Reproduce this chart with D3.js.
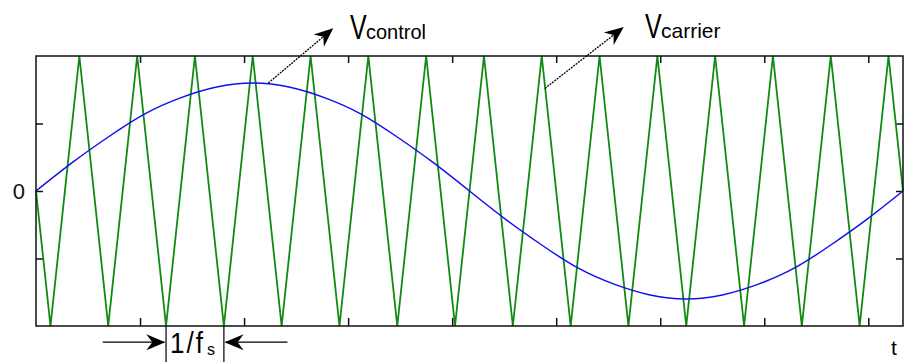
<!DOCTYPE html>
<html>
<head>
<meta charset="utf-8">
<script src="https://cdn.jsdelivr.net/npm/d3@7"></script>
<style>
  body { margin: 0; background: #fff; }
  svg { display: block; font-family: "Liberation Sans", Arial, sans-serif; }
  .axis path { display: none; }
  .axis line { stroke: #111; stroke-width: 1.5; }
  .axis text { font-size: 22px; fill: #111; }
</style>
</head>
<body>
<svg id="chart"></svg>
<script>
/////////////////////////////////////////////////////////////////
// Data (time as a fraction of one control period)
/////////////////////////////////////////////////////////////////

// control signal (sine-shaped), sampled every 1/24 of the period
var controlTime  = [0, 0.0417, 0.0833, 0.125, 0.1667, 0.2083, 0.25, 0.2917, 0.3333, 0.375,
                    0.4167, 0.4583, 0.5, 0.5417, 0.5833, 0.625, 0.6667, 0.7083, 0.75,
                    0.7917, 0.8333, 0.875, 0.9167, 0.9583, 1];
var controlValue = [0, 0.21, 0.40, 0.57, 0.69, 0.77, 0.80, 0.77, 0.69, 0.57,
                    0.40, 0.21, 0, -0.21, -0.40, -0.57, -0.69, -0.77, -0.80,
                    -0.77, -0.69, -0.57, -0.40, -0.21, 0];

// carrier (triangle) vertices
var carrierTime  = [0, 0.0167, 0.05, 0.0833, 0.1167, 0.15, 0.1833, 0.2167, 0.25, 0.2833,
                    0.3167, 0.35, 0.3833, 0.4167, 0.45, 0.4833, 0.5167, 0.55, 0.5833,
                    0.6167, 0.65, 0.6833, 0.7167, 0.75, 0.7833, 0.8167, 0.85, 0.8833,
                    0.9167, 0.95, 0.9833, 1];
var carrierValue = [0, -1, 1, -1, 1, -1, 1, -1, 1, -1, 1, -1, 1, -1, 1, -1,
                    1, -1, 1, -1, 1, -1, 1, -1, 1, -1, 1, -1, 1, -1, 1, 0];

var xTicks = [0.12, 0.24, 0.36, 0.48, 0.60, 0.72, 0.84, 0.96];
var yTicks = [-0.5, 0, 0.5];

// one carrier period, marked between two troughs
var periodStart = 0.15;
var periodEnd   = 0.2167;

/////////////////////////////////////////////////////////////////
// Layout
/////////////////////////////////////////////////////////////////

var w = 904, h = 362;
var plotLeft = 36, plotRight = 903, plotTop = 56, plotBottom = 326;

var svg = d3.select("#chart").attr("width", w).attr("height", h);

var xScale = d3.scaleLinear().domain([0, 1]).range([plotLeft, plotRight]);
var yScale = d3.scaleLinear().domain([-1, 1]).range([plotBottom, plotTop]);

// arrow head marker (notched, filled)
var defs = svg.append("defs");
defs.append("marker")
    .attr("id", "head")
    .attr("viewBox", "-20 -10 22 20")
    .attr("markerWidth", 22)
    .attr("markerHeight", 20)
    .attr("markerUnits", "userSpaceOnUse")
    .attr("refX", 0)
    .attr("refY", 0)
    .attr("orient", "auto")
  .append("path")
    .attr("d", "M1,0 L-18,-8 L-12,0 L-18,8 Z")
    .attr("fill", "#000");

/////////////////////////////////////////////////////////////////
// Axes: ticks point inward, only "0" is labelled
/////////////////////////////////////////////////////////////////

svg.append("g")
   .attr("class", "axis")
   .attr("transform", "translate(0," + plotBottom + ")")
   .call(d3.axisBottom(xScale).tickValues(xTicks).tickSizeInner(-8).tickSizeOuter(0).tickFormat(""));

svg.append("g")
   .attr("class", "axis")
   .attr("transform", "translate(0," + plotTop + ")")
   .call(d3.axisTop(xScale).tickValues(xTicks).tickSizeInner(-7).tickSizeOuter(0).tickFormat(""));

svg.append("g")
   .attr("class", "axis")
   .attr("transform", "translate(" + plotLeft + ",0)")
   .call(d3.axisLeft(yScale).tickValues(yTicks).tickSizeInner(-7).tickSizeOuter(0)
           .tickPadding(11)
           .tickFormat(function(d) { return d === 0 ? "0" : ""; }));

svg.append("g")
   .attr("class", "axis")
   .attr("transform", "translate(" + plotRight + ",0)")
   .call(d3.axisRight(yScale).tickValues(yTicks).tickSizeInner(-7).tickSizeOuter(0).tickFormat(""));

/////////////////////////////////////////////////////////////////
// Curves
/////////////////////////////////////////////////////////////////

var carrier = carrierTime.map(function(t, i) { return {t: t, v: carrierValue[i]}; });
var control = controlTime.map(function(t, i) { return {t: t, v: controlValue[i]}; });

var triLine = d3.line()
    .x(function(d) { return xScale(d.t); })
    .y(function(d) { return yScale(d.v); });

var sinLine = d3.line()
    .curve(d3.curveNatural)
    .x(function(d) { return xScale(d.t); })
    .y(function(d) { return yScale(d.v); });

svg.append("path")
   .datum(carrier)
   .attr("d", triLine)
   .attr("fill", "none")
   .attr("stroke", "#118a11")
   .attr("stroke-width", 1.8);

svg.append("path")
   .datum(control)
   .attr("d", sinLine)
   .attr("fill", "none")
   .attr("stroke", "#1010f0")
   .attr("stroke-width", 1.5);

// frame
svg.append("rect")
   .attr("x", plotLeft).attr("y", plotTop)
   .attr("width", plotRight - plotLeft).attr("height", plotBottom - plotTop)
   .attr("fill", "none")
   .attr("stroke", "#111")
   .attr("stroke-width", 1.5);

/////////////////////////////////////////////////////////////////
// Labels and arrows
/////////////////////////////////////////////////////////////////

function arrow(x1, y1, x2, y2, dashed) {
    svg.append("line")
       .attr("x1", xScale(x1)).attr("y1", yScale(y1))
       .attr("x2", xScale(x2)).attr("y2", yScale(y2))
       .attr("stroke", "#000")
       .attr("stroke-width", 1.3)
       .attr("stroke-dasharray", dashed ? "2,1" : null)
       .attr("marker-end", "url(#head)");
}

function vlabel(x, y, sub, size) {
    var g = svg.append("g").attr("transform", "translate(" + x + "," + y + ")");
    g.append("text")
     .attr("transform", "scale(1,1.4)")
     .style("font-size", "25px")
     .text("V");
    g.append("text")
     .attr("x", 16)
     .style("font-size", size + "px")
     .text(sub);
}

arrow(0.268, 0.80, 0.342, 1.20, true);
arrow(0.587, 0.76, 0.677, 1.21, true);
vlabel(350, 39, "control", 20);
vlabel(645, 38, "carrier", 21);

// 1/fs marker
var yMark = -1.12;
[periodStart, periodEnd].forEach(function(t) {
    svg.append("line")
       .attr("x1", xScale(t)).attr("x2", xScale(t))
       .attr("y1", yScale(-1)).attr("y2", h)
       .attr("stroke", "#111")
       .attr("stroke-width", 1.3);
});
arrow(0.077, yMark, periodStart - 0.002, yMark, false);
arrow(0.29, yMark, periodEnd + 0.002, yMark, false);

svg.append("text")
   .attr("transform", "translate(170,353) scale(1,1.1)")
   .style("font-size", "26px")
   .style("letter-spacing", "2px")
   .text("1/f");
svg.append("text")
   .attr("x", 207).attr("y", 355)
   .style("font-size", "16px")
   .text("s");

svg.append("text")
   .attr("x", 891).attr("y", 355)
   .style("font-size", "21px")
   .text("t");
</script>
</body>
</html>
